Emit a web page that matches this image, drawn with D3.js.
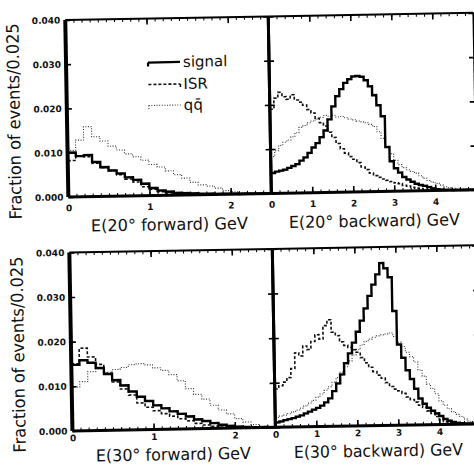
<!DOCTYPE html>
<html><head><meta charset="utf-8">
<script src="https://cdn.jsdelivr.net/npm/d3@7"></script>
<style>
html,body{margin:0;padding:0;background:#fff;}
svg{display:block;}
text{font-family:"DejaVu Sans",sans-serif;fill:#111;}
</style></head>
<body><div id="chart"></div>
<script>
// ---- data (fraction of events per 0.025 GeV, read in 0.1 GeV bins) ----
const binWidth = 0.1;
const fwd20Signal = [0.0100,0.0092,0.0094,0.0078,0.0066,0.0058,0.0051,0.0042,0.0036,0.0027,0.0017,0.0011,0.0008,0.0005,0.0004,0.0003,0.0002,0.0002,0.0001,0.0001,0.0001,0,0,0,0];
const fwd20ISR    = [0.0082,0.0092,0.0090,0.0075,0.0065,0.0058,0.0048,0.0038,0.0031,0.0020,0.0014,0.0008,0.0005,0.0003,0.0002,0.0001,0.0001,0,0,0,0,0,0,0,0];
const fwd20QQ     = [0.0105,0.0128,0.0158,0.0135,0.0125,0.0113,0.0104,0.0095,0.0088,0.0080,0.0070,0.0064,0.0055,0.0046,0.0038,0.0028,0.0022,0.0019,0.0014,0.0008,0.0005,0.0003,0.0002,0.0001,0];

const bwd20Signal = [0.0046,0.0049,0.0051,0.0053,0.0057,0.0061,0.0065,0.0073,0.0080,0.0090,
  0.0102,0.0112,0.0125,0.0140,0.0165,0.0194,0.0217,0.0233,0.0247,0.0255,
  0.0261,0.0262,0.0260,0.0252,0.0238,0.0218,0.0195,0.0170,0.0100,0.0068,
  0.0052,0.0042,0.0032,0.0026,0.0021,0.0016,0.0013,0.0011,0.0008,0.0005,
  0.0003,0.0002,0.0001,0.0001,0,0,0,0,0,0];
const bwd20ISR = [0.0190,0.0215,0.0228,0.0218,0.0212,0.0222,0.0210,0.0205,0.0198,0.0188,
  0.0180,0.0168,0.0158,0.0150,0.0136,0.0124,0.0110,0.0098,0.0088,0.0080,
  0.0074,0.0066,0.0056,0.0050,0.0042,0.0036,0.0032,0.0028,0.0025,0.0022,
  0.0019,0.0017,0.0013,0.0011,0.0008,0.0006,0.0005,0.0003,0.0002,0.0002,
  0.0001,0.0001,0,0,0,0,0,0,0,0];
const bwd20QQ = [0.0083,0.0096,0.0108,0.0115,0.0120,0.0127,0.0136,0.0148,0.0152,0.0158,
  0.0162,0.0166,0.0170,0.0174,0.0172,0.0174,0.0170,0.0171,0.0168,0.0165,
  0.0163,0.0160,0.0158,0.0156,0.0152,0.0147,0.0135,0.0120,0.0102,0.0085,
  0.0070,0.0060,0.0053,0.0048,0.0044,0.0040,0.0034,0.0028,0.0023,0.0019,
  0.0016,0.0012,0.0008,0.0006,0.0004,0.0002,0.0001,0.0001,0,0];

const fwd30Signal = [0.0148,0.0158,0.0152,0.0140,0.0126,0.0112,0.0100,0.0086,0.0074,0.0064,0.0054,0.0047,0.0040,0.0034,0.0028,0.0021,0.0017,0.0012,0.0008,0.0005,0.0003,0.0002,0.0001,0.0001,0];
const fwd30ISR    = [0.0150,0.0185,0.0165,0.0148,0.0128,0.0108,0.0092,0.0078,0.0060,0.0050,0.0042,0.0035,0.0029,0.0023,0.0018,0.0012,0.0008,0.0005,0.0003,0.0002,0.0001,0,0,0,0];
const fwd30QQ     = [0.0098,0.0110,0.0132,0.0138,0.0130,0.0136,0.0140,0.0146,0.0148,0.0145,0.0138,0.0132,0.0122,0.0108,0.0090,0.0077,0.0066,0.0052,0.0041,0.0032,0.0021,0.0013,0.0007,0.0003,0.0001];

const bwd30Signal = [0.0011,0.0013,0.0016,0.0018,0.0020,0.0023,0.0026,0.0030,0.0034,0.0038,
  0.0042,0.0047,0.0054,0.0063,0.0079,0.0096,0.0116,0.0141,0.0163,0.0187,
  0.0211,0.0236,0.0263,0.0291,0.0316,0.0339,0.0364,0.0352,0.0332,0.0256,
  0.0181,0.0151,0.0123,0.0103,0.0081,0.0059,0.0047,0.0038,0.0031,0.0025,
  0.0019,0.0012,0.0008,0.0005,0.0003,0.0002,0.0001,0.0001,0,0];
const bwd30ISR = [0.0086,0.0093,0.0101,0.0111,0.0131,0.0166,0.0159,0.0181,0.0173,0.0191,
  0.0206,0.0196,0.0226,0.0239,0.0211,0.0203,0.0189,0.0181,0.0176,0.0171,
  0.0165,0.0153,0.0141,0.0131,0.0121,0.0113,0.0106,0.0096,0.0087,0.0081,
  0.0077,0.0071,0.0063,0.0057,0.0051,0.0044,0.0039,0.0031,0.0025,0.0018,
  0.0010,0.0006,0.0004,0.0002,0.0001,0.0001,0,0,0,0];
const bwd30QQ = [0.0022,0.0025,0.0027,0.0030,0.0034,0.0038,0.0042,0.0047,0.0053,0.0059,
  0.0066,0.0073,0.0081,0.0089,0.0099,0.0109,0.0121,0.0133,0.0146,0.0159,
  0.0171,0.0181,0.0189,0.0194,0.0198,0.0201,0.0203,0.0205,0.0207,0.0199,
  0.0186,0.0176,0.0163,0.0153,0.0141,0.0123,0.0109,0.0091,0.0081,0.0069,
  0.0053,0.0043,0.0035,0.0028,0.0022,0.0017,0.0011,0.0006,0.0003,0.0001];

const yTickValues = [0, 0.01, 0.02, 0.03, 0.04];
const yTickLabels = ["0.000","0.010","0.020","0.030","0.040"];
const xTicksForward = [0, 1, 2];
const xTicksBackward20 = [0, 1, 2, 3, 4, 5];
const xTicksBackward30 = [0, 1, 2, 3, 4];
const seriesNames = ["signal", "ISR", "qq\u0304"];
const xTitles = ["E(20\u00b0 forward)  GeV", "E(20\u00b0 backward)  GeV", "E(30\u00b0 forward)  GeV", "E(30\u00b0 backward)  GeV"];
const yTitle = "Fraction of events/0.025";

// ---- layout ----
const W = 474, H = 465;
const svg = d3.select("#chart").append("svg").attr("width", W).attr("height", H);
const root = svg.append("g").attr("transform", "rotate(-1,237,232)");

const rows = [{top: 17, bottom: 194, lblPad: 8, titleOff: 35},
              {top: 249.5, bottom: 428, lblPad: 4, titleOff: 31}];
const cols = [{x0: 69, x1: 272, dom: [0, 2.5], minorStep: 0.1},
              {x0: 272, x1: 477, dom: [0, 5], minorStep: 0.2}];
const panels = [
  {r: 0, c: 0, data: [fwd20Signal, fwd20ISR, fwd20QQ], ticks: xTicksForward, title: xTitles[0], tlen: 157},
  {r: 0, c: 1, data: [bwd20Signal, bwd20ISR, bwd20QQ], ticks: xTicksBackward20, title: xTitles[1], tlen: 171},
  {r: 1, c: 0, data: [fwd30Signal, fwd30ISR, fwd30QQ], ticks: xTicksForward, title: xTitles[2], tlen: 155},
  {r: 1, c: 1, data: [bwd30Signal, bwd30ISR, bwd30QQ], ticks: xTicksBackward30, title: xTitles[3], tlen: 169}
];
const styles = [
  {w: 2.4, dash: null, color: "#000"},
  {w: 1.6, dash: "3,2", color: "#111"},
  {w: 1.1, dash: "1,1.6", color: "#333"}
];

panels.forEach(p => {
  const row = rows[p.r], col = cols[p.c];
  const x = d3.scaleLinear().domain(col.dom).range([col.x0, col.x1]);
  const y = d3.scaleLinear().domain([0, 0.04]).range([row.bottom, row.top]);
  const g = root.append("g");

  // histograms
  const line = d3.line().x(d => x(d[0])).y(d => y(d[1])).curve(d3.curveStepAfter);
  [2, 1, 0].forEach(si => {
    const vals = p.data[si];
    const pts = vals.map((v, i) => [i * binWidth, v]);
    pts.push([vals.length * binWidth, vals[vals.length - 1]]);
    g.append("path").attr("d", line(pts)).attr("fill", "none")
      .attr("stroke", styles[si].color).attr("stroke-width", styles[si].w)
      .attr("stroke-dasharray", styles[si].dash).attr("stroke-linejoin", "miter");
  });

  const strip = sel => { sel.select(".domain").remove(); sel.selectAll("line").attr("stroke", "#000"); };
  const minor = d3.range(col.dom[0], col.dom[1] + 1e-9, col.minorStep);
  const major = d3.range(col.dom[0], col.dom[1] + 1e-9, 1);

  // bottom ticks (inward)
  g.append("g").attr("transform", `translate(0,${row.bottom})`)
    .call(d3.axisTop(x).tickValues(minor).tickSize(3).tickFormat("")).call(strip)
    .selectAll("line").attr("stroke-width", 1);
  g.append("g").attr("transform", `translate(0,${row.bottom})`)
    .call(d3.axisTop(x).tickValues(major).tickSize(6).tickFormat("")).call(strip)
    .selectAll("line").attr("stroke-width", 1.6);
  // top ticks (inward)
  g.append("g").attr("transform", `translate(0,${row.top})`)
    .call(d3.axisBottom(x).tickValues(minor).tickSize(3).tickFormat("")).call(strip)
    .selectAll("line").attr("stroke-width", 1);
  g.append("g").attr("transform", `translate(0,${row.top})`)
    .call(d3.axisBottom(x).tickValues(major).tickSize(6).tickFormat("")).call(strip)
    .selectAll("line").attr("stroke-width", 1.6);
  // x tick labels
  const xl = g.append("g").attr("transform", `translate(0,${row.bottom})`)
    .call(d3.axisBottom(x).tickValues(p.ticks).tickSize(0).tickPadding(row.lblPad).tickFormat(d3.format("d")));
  xl.select(".domain").remove();
  xl.selectAll("text").attr("font-size", 9).attr("font-weight", "bold")
    .attr("font-family", "'Liberation Sans',sans-serif").attr("fill", "#111");

  // y ticks: inward on both sides
  g.append("g").attr("transform", `translate(${col.x0},0)`)
    .call(d3.axisRight(y).tickValues(yTickValues).tickSize(5).tickFormat("")).call(strip)
    .selectAll("line").attr("stroke-width", 1.6);
  g.append("g").attr("transform", `translate(${col.x1},0)`)
    .call(d3.axisLeft(y).tickValues(yTickValues).tickSize(5).tickFormat("")).call(strip)
    .selectAll("line").attr("stroke-width", 1.6);

  if (p.c === 0) {
    const yl = g.append("g").attr("transform", `translate(${col.x0},0)`)
      .call(d3.axisLeft(y).tickValues(yTickValues).tickSize(0).tickPadding(5)
        .tickFormat((d, i) => yTickLabels[i]));
    yl.select(".domain").remove();
    yl.selectAll("text").attr("font-size", 9).attr("font-weight", "bold")
      .attr("font-family", "'Liberation Sans',sans-serif").attr("fill", "#111");
    // y title
    const cy = (row.top + row.bottom) / 2 + 12;
    g.append("text").attr("transform", `translate(22,${cy}) rotate(-90)`)
      .attr("text-anchor", "middle").attr("font-size", 17)
      .attr("textLength", 196).attr("lengthAdjust", "spacingAndGlyphs")
      .text(yTitle);
  }

  // frame
  g.append("line").attr("x1", col.x0).attr("x2", col.x1).attr("y1", row.top).attr("y2", row.top)
    .attr("stroke", "#000").attr("stroke-width", 2);
  g.append("line").attr("x1", col.x0).attr("x2", col.x1).attr("y1", row.bottom).attr("y2", row.bottom)
    .attr("stroke", "#000").attr("stroke-width", 3);
  g.append("line").attr("x1", col.x0).attr("x2", col.x0).attr("y1", row.top).attr("y2", row.bottom)
    .attr("stroke", "#000").attr("stroke-width", p.c === 0 ? 4 : 3);
  g.append("line").attr("x1", col.x1).attr("x2", col.x1).attr("y1", row.top).attr("y2", row.bottom)
    .attr("stroke", "#000").attr("stroke-width", p.c === 0 ? 3 : 1.6);

  // x title
  g.append("text").attr("x", (col.x0 + col.x1) / 2 + (p.c === 0 ? -1 : 0)).attr("y", row.bottom + row.titleOff)
    .attr("text-anchor", "middle").attr("font-size", 16.5)
    .attr("textLength", p.tlen).attr("lengthAdjust", "spacingAndGlyphs")
    .text(p.title);
});

// legend (top-left panel)
const legY = [61, 83, 104];
const lg = root.append("g");
seriesNames.forEach((name, i) => {
  const yy = legY[i];
  const s = styles[i];
  lg.append("line").attr("x1", 151).attr("x2", 183).attr("y1", yy).attr("y2", yy)
    .attr("stroke", s.color).attr("stroke-width", i === 0 ? 2.2 : s.w).attr("stroke-dasharray", s.dash);
  const tx = i === 1 ? 183 : 151;
  lg.append("line").attr("x1", tx).attr("x2", tx).attr("y1", yy).attr("y2", yy + 4)
    .attr("stroke", s.color).attr("stroke-width", i === 0 ? 2.2 : s.w).attr("stroke-dasharray", s.dash);
  lg.append("text").attr("x", 186).attr("y", yy + 5).attr("font-size", 15).text(name);
});
</script>
</body></html>
